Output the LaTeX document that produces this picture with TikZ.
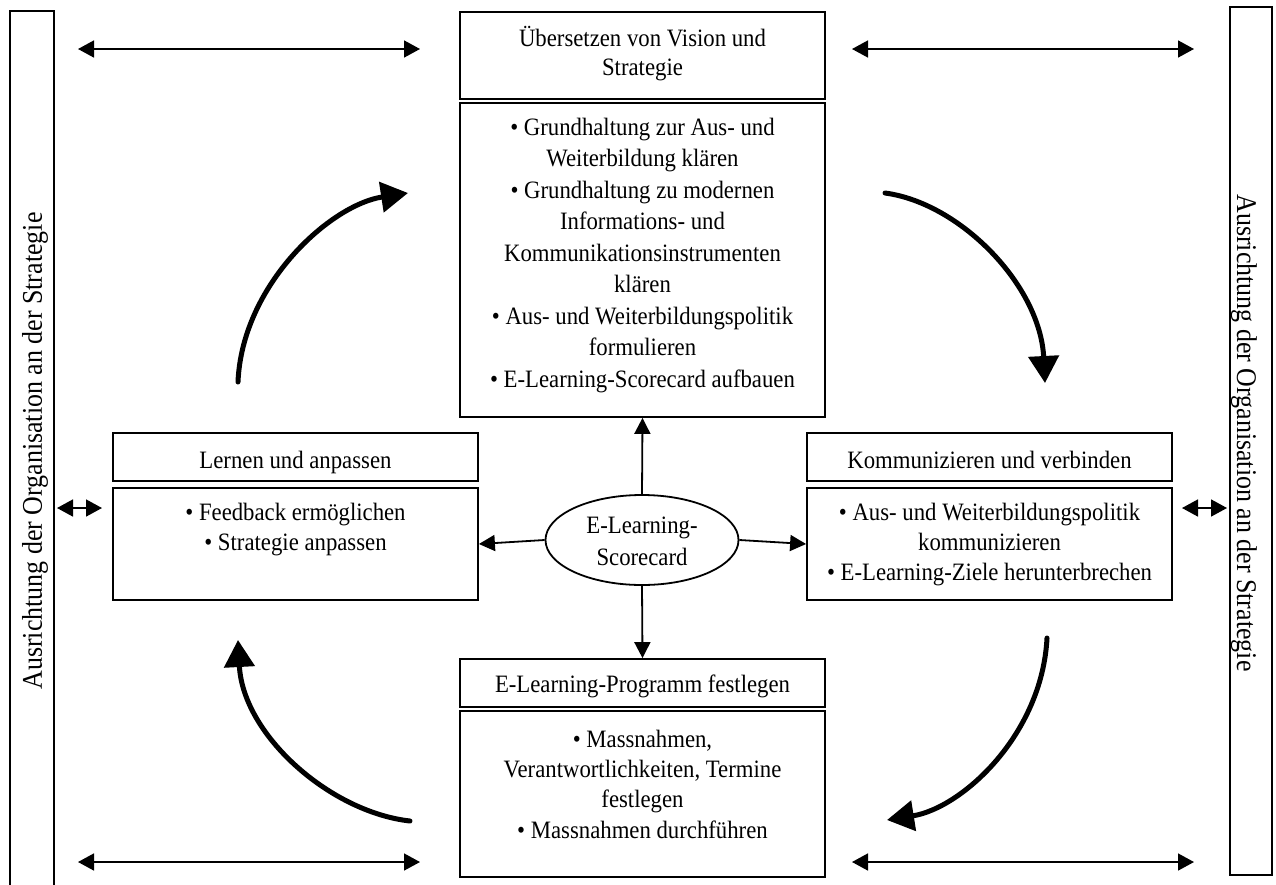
\documentclass[tikz,border=0pt]{standalone}
\usepackage{fontspec}
\setmainfont[FakeStretch=0.91]{Liberation Serif}
\usetikzlibrary{arrows.meta,shapes.geometric}
\begin{document}
\begin{tikzpicture}[x=1pt,y=-1pt,
 box/.style={draw, line width=1.8pt, rectangle, inner sep=0pt},
 bar/.style={draw, line width=1.5pt, rectangle, inner sep=0pt},
 txt/.style={anchor=north, align=center, inner sep=0pt, font=\fontsize{25pt}{#1pt}\selectfont},
 txt/.default=30,
 side/.style={inner sep=0pt, font=\fontsize{28.5pt}{32pt}\selectfont},
 dbl/.style={line width=1.6pt, {Triangle[length=16pt,width=17pt]}-{Triangle[length=16pt,width=17pt]}},
 link/.style={line width=1.8pt, -{Triangle[length=16pt,width=16pt]}},
 curv/.style={line width=5pt, line cap=round, -{Triangle[length=27pt,width=30pt]}},
]
\useasboundingbox (0,0) rectangle (1276,884);
\clip (0,0) rectangle (1276,884);

% side bars
\node[bar, minimum width=44pt, minimum height=889pt] (LB) at (32,455.5) {};
\node[bar, minimum width=42pt, minimum height=868pt] (RB) at (1251,441) {};
\node[side, rotate=90] (LBt) at (35,451) {Ausrichtung der Organisation an der Strategie};
\node[side, rotate=-90] (RBt) at (1244,433) {Ausrichtung der Organisation an der Strategie};

% boxes
\node[box, minimum width=365pt, minimum height=87pt] (T1) at (642.5,55.5) {};
\node[box, minimum width=365pt, minimum height=314pt] (T2) at (642.5,260) {};
\node[box, minimum width=365pt, minimum height=48pt] (L1) at (295.5,457) {};
\node[box, minimum width=365pt, minimum height=112pt] (L2) at (295.5,544) {};
\node[box, minimum width=365pt, minimum height=48pt] (R1) at (989.5,457) {};
\node[box, minimum width=365pt, minimum height=112pt] (R2) at (989.5,544) {};
\node[box, minimum width=365pt, minimum height=48pt] (B1) at (642.5,683) {};
\node[box, minimum width=365pt, minimum height=166pt] (B2) at (642.5,794) {};
\node[draw, ellipse, line width=1.8pt, minimum width=193pt, minimum height=90pt, inner sep=0pt] (E) at (642,540) {};

% texts
\node[txt=29] (T1t) at (642.5,25.7) {\strut Übersetzen von Vision und\\Strategie};
\node[txt=31.5] (T2t) at (642.5,113) {\strut • Grundhaltung zur Aus- und\\Weiterbildung klären\\• Grundhaltung zu modernen\\Informations- und\\Kommunikationsinstrumenten\\klären\\• Aus- und Weiterbildungspolitik\\formulieren\\• E-Learning-Scorecard aufbauen};
\node[txt] (L1t) at (295.5,447) {\strut Lernen und anpassen};
\node[txt] (L2t) at (295.5,499) {\strut • Feedback ermöglichen\\• Strategie anpassen};
\node[txt] (R1t) at (989.5,447) {\strut Kommunizieren und verbinden};
\node[txt] (R2t) at (989.5,499) {\strut • Aus- und Weiterbildungspolitik\\kommunizieren\\• E-Learning-Ziele herunterbrechen};
\node[txt] (B1t) at (642.5,671) {\strut E-Learning-Programm festlegen};
\node[txt=30.3] (B2t) at (642.5,725.8) {\strut • Massnahmen,\\Verantwortlichkeiten, Termine\\festlegen\\• Massnahmen durchführen};
\node[txt=32] (Et) at (642,510.6) {\strut E-Learning-\\Scorecard};

% straight double arrows
\coordinate (a) at (78,49);   \coordinate (b) at (420,49);
\coordinate (c) at (852,49);  \coordinate (d) at (1194,49);
\coordinate (e) at (78,862);  \coordinate (f) at (420,862);
\coordinate (g) at (852,862); \coordinate (h) at (1194,862);
\coordinate (i) at (57,508);  \coordinate (j) at (102,508);
\coordinate (k) at (1182,508);\coordinate (l) at (1227,508);
\draw[dbl] (a) -- (b);
\draw[dbl] (c) -- (d);
\draw[dbl] (e) -- (f);
\draw[dbl] (g) -- (h);
\draw[dbl] (i) -- (j);
\draw[dbl] (k) -- (l);

% ellipse links
\draw[link] (E.north) -- (T2.south);
\draw[link] (E.south) -- (B1.north);
\draw[link] (E.west) -- (L2.east);
\draw[link] (E.east) -- (R2.west);

% curved cycle arrows
\coordinate (c1s) at (238,382); \coordinate (c1e) at (408,193);
\coordinate (c2s) at (885,193); \coordinate (c2e) at (1045,383);
\coordinate (c3s) at (1047,638); \coordinate (c3e) at (887,820);
\coordinate (c4s) at (410,821); \coordinate (c4e) at (238,640);
\draw[curv] (c1s) .. controls (242,285) and (330,205) .. (c1e);
\draw[curv] (c2s) .. controls (960,203) and (1040,285) .. (c2e);
\draw[curv] (c3s) .. controls (1042,735) and (962,808) .. (c3e);
\draw[curv] (c4s) .. controls (330,812) and (243,735) .. (c4e);
\end{tikzpicture}
\end{document}
